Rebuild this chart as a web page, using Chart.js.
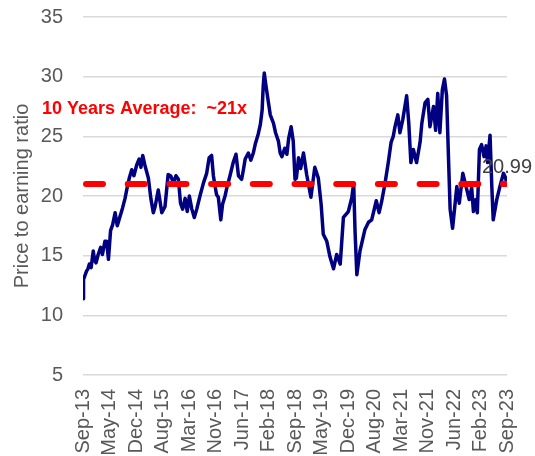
<!DOCTYPE html>
<html>
<head>
<meta charset="UTF-8">
<script src="https://cdn.jsdelivr.net/npm/chart.js@4"></script>
<style>
html,body{margin:0;padding:0;background:#fff}
canvas{display:block}
</style>
</head>
<body>
<canvas id="pe" width="535" height="456"></canvas>
<script>
// ── data ──
// x = months since Sep-13 (axis spans 0..120)
const tickLabels=['Sep-13','May-14','Dec-14','Aug-15','Mar-16','Nov-16','Jun-17','Feb-18','Sep-18','May-19','Dec-19','Aug-20','Mar-21','Nov-21','Jun-22','Feb-23','Sep-23'];
const peMonths=[
  0,0.15,0.5,1,1.4,1.8,2.3,2.9,3.3,3.7,
  4.3,5,5.5,6.2,6.7,7.2,7.8,8.4,9.1,9.7,
  10.5,11.2,11.9,12.5,13.1,13.8,14.4,15.2,15.9,16.4,
  16.9,17.5,18.5,19.2,19.9,20.4,21.3,22.3,23.2,24.1,
  24.8,25.6,26.3,27,27.6,28.2,28.9,29.5,30.1,30.8,
  31.5,32.2,33.1,34.1,35,35.7,36.4,36.9,37.4,37.8,
  38.3,39,39.5,40.2,40.8,41.6,42.5,43.3,44,44.9,
  45.4,45.9,46.8,47.5,48.2,48.8,49.6,50.2,50.7,51,
  51.3,51.7,52,52.5,53,53.9,54.5,55.3,55.8,56.3,
  57.1,57.7,58.2,58.9,59.5,60,60.4,61,61.6,62.4,
  63.3,64.5,65.6,66.6,67.4,68,69,69.9,70.9,71.8,
  72.8,73.7,75.1,76.1,76.6,77,77.5,78.4,79.8,80.8,
  81.7,82.6,83,83.8,84.5,85.5,86.4,87.2,87.8,88.3,
  89.1,89.7,90.5,91.6,92.2,92.8,93.5,94.4,95.4,95.9,
  96.8,97.6,98.2,99.2,99.8,100.4,101,101.7,102.3,102.9,
  103.4,103.9,104.6,105.8,106.5,107.5,108.4,109.3,110,110.5,
  111.2,111.6,112.2,112.8,113.5,114.1,114.5,115.2,115.7,116.1,
  117.1,118,119,119.5,120];
const peRatio=[
  11.4,13.0,13.3,13.7,13.9,14.3,14.0,15.4,14.6,14.4,
  15.1,15.7,15.1,16.2,16.2,14.7,17.1,17.6,18.6,17.5,
  18.3,19.0,19.8,20.7,21.5,22.2,21.7,22.6,23.1,22.4,
  23.4,22.6,21.5,19.8,18.6,19.1,20.5,18.6,19.1,21.8,
  21.7,21.1,21.7,21.4,19.4,18.9,19.8,18.7,20.0,18.9,
  18.2,18.9,20.0,21.1,21.9,23.2,23.4,21.7,20.8,20.1,
  19.9,18.0,19.3,20.0,20.8,21.7,22.8,23.5,21.7,21.4,
  22.2,23.1,23.6,23.0,23.6,24.4,25.2,26.0,27.2,29.2,
  30.3,29.4,28.8,27.8,26.8,26.1,25.3,24.6,23.6,23.3,
  24.0,23.5,24.8,25.8,24.6,21.4,21.5,23.2,22.3,23.6,
  21.8,19.9,22.4,21.5,19.3,16.8,16.2,14.9,13.9,15.1,
  14.3,18.2,18.7,19.9,21.1,17.0,13.4,15.4,17.2,17.8,
  18.0,19.1,19.6,18.6,19.5,21.1,22.8,24.5,25.0,25.8,
  26.8,25.3,26.4,28.4,26.1,22.8,23.9,22.8,24.5,26.1,
  27.8,28.1,25.8,27.5,25.5,28.6,25.3,28.9,29.8,28.4,
  23.6,18.9,17.3,20.8,19.4,21.9,20.8,19.7,20.7,18.7,
  19.7,18.6,23.9,24.3,23.3,24.2,22.8,25.1,20.8,18.0,
  19.7,20.8,21.9,21.6,20.99];
const avgPE=21;
const avgLabel='10 Years Average:  ~21x';
const axisTitle='Price to earning ratio';

const FONT='"Liberation Sans", Arial, sans-serif';
const GREY='#595959';

// text extras: average note + last value label
const extrasPlugin={
  id:'extras',
  afterDraw(chart){
    const c=chart.ctx,y=chart.scales.y;
    c.save();
    c.font='bold 18px '+FONT;
    c.fillStyle='#ff0000';
    c.textAlign='left';c.textBaseline='middle';
    c.fillText(avgLabel,42,y.getPixelForValue(27.25));
    const meta=chart.getDatasetMeta(1);
    const last=meta.data[meta.data.length-1];
    c.font='20px '+FONT;
    c.fillStyle='#404040';
    c.textAlign='center';c.textBaseline='middle';
    c.fillText(peRatio[peRatio.length-1].toFixed(2),last.x,last.y-17);
    c.restore();
  }
};

new Chart(document.getElementById('pe'),{
  type:'line',
  data:{datasets:[
    {label:'avg',data:[{x:0,y:avgPE},{x:120,y:avgPE}],borderColor:'#ff0000',borderWidth:6,borderDash:[17,24.7],borderDashOffset:-3,borderCapStyle:'round',pointRadius:0,order:0},
    {label:'P/E',data:peMonths.map((m,i)=>({x:m,y:peRatio[i]})),borderColor:'#000080',borderWidth:3.5,pointRadius:0,tension:0,borderJoinStyle:'round',order:1}
  ]},
  options:{
    responsive:false,animation:false,
    layout:{padding:{top:17,right:28,left:0,bottom:0}},
    plugins:{legend:{display:false},tooltip:{enabled:false}},
    scales:{
      x:{type:'linear',min:0,max:120,
        afterBuildTicks:s=>{s.ticks=tickLabels.map((_,i)=>({value:i*7.5}));},
        ticks:{autoSkip:false,minRotation:90,maxRotation:90,padding:6,color:GREY,font:{family:FONT,size:20,lineHeight:0.1},callback:(v,i)=>tickLabels[i]},
        grid:{display:false},border:{display:false},
        afterFit:s=>{s.height=81;s.paddingLeft=0;s.paddingRight=0;}},
      y:{min:5,max:35,
        ticks:{stepSize:5,padding:20,color:GREY,font:{family:FONT,size:20}},
        grid:{color:'#d9d9d9',lineWidth:1.5,drawTicks:false},border:{display:false},
        title:{display:true,text:axisTitle,color:GREY,font:{family:FONT,size:20},padding:{top:10,bottom:0}},
        afterFit:s=>{s.width=83;s.paddingTop=0;s.paddingBottom=0;}}
    }
  },
  plugins:[extrasPlugin]
});
</script>
</body>
</html>
